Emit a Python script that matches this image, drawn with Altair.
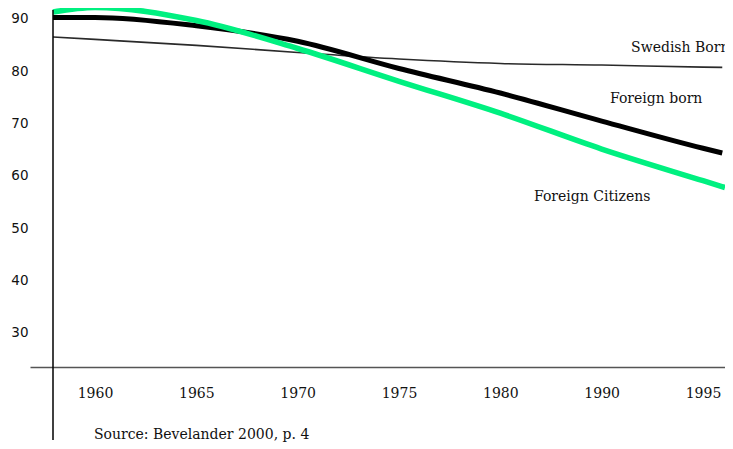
import altair as alt
import pandas as pd

# Category labels on the x axis (evenly spaced in the original)
years = ["1960", "1965", "1970", "1975", "1980", "1990", "1995"]

# Positions are in "category index" units (0 = 1960 ... 6 = 1995)
swedish_pos = [-0.4145, 0, 1, 2, 3, 4, 5, 6, 6.19]
swedish_val = [86.56, 86.1, 84.95, 83.6, 82.35, 81.5, 81.2, 80.8, 80.75]

foreign_born_pos = [-0.4145, 0, 1, 2, 3, 4, 5, 6, 6.19]
foreign_born_val = [90.29, 90.29, 88.7, 85.74, 80.54, 75.85, 70.5, 65.3, 64.4]

foreign_cit_pos = [-0.4145, 0, 1, 2, 3, 4, 5, 6, 6.217]
foreign_cit_val = [91.34, 92.2, 89.7, 84.36, 78.1, 72.0, 65.15, 59.1, 57.8]

y_ticks = [30, 40, 50, 60, 70, 80, 90]

labels = ["Swedish Born", "Foreign born", "Foreign Citizens"]
label_pos = [5.29, 5.082, 4.332]
label_val = [84.46, 74.71, 55.99]

source_text = ["Source: Bevelander 2000, p. 4"]
source_pos = [-0.01]
source_val = [10.6]

y_axis_pos = [-0.4145]
y_axis_top = [91.7]
y_axis_bottom = [9.55]

X_DOMAIN = [-0.6415, 6.217]
Y_DOMAIN = [23.5, 92.1]

xs = alt.Scale(domain=X_DOMAIN, nice=False, zero=False)
ys = alt.Scale(domain=Y_DOMAIN, nice=False, zero=False)

label_expr = "[" + ",".join(f"'{y}'" for y in years) + "][datum.value]"

x_axis = alt.Axis(
    values=list(range(len(years))),
    labelExpr=label_expr,
    ticks=False,
    grid=False,
    domainColor="#555555",
    domainWidth=1.6,
    labelFont="DejaVu Serif",
    labelFontSize=14,
    labelColor="#111111",
    labelPadding=19,
    labelFlush=False,
    title=None,
)
y_axis = alt.Axis(
    values=y_ticks,
    ticks=False,
    grid=False,
    domain=False,
    offset=-23,
    labelFont="DejaVu Sans",
    labelFontSize=13.5,
    labelColor="#111111",
    labelPadding=25,
    title=None,
)


def series_df(pos, val):
    return pd.DataFrame({"pos": pos, "val": val})


base_x = alt.X("pos:Q", scale=xs, axis=x_axis)
base_y = alt.Y("val:Q", scale=ys, axis=y_axis)

swedish = alt.Chart(series_df(swedish_pos, swedish_val)).mark_line(
    color="#2a2a2a", strokeWidth=1.6, interpolate="monotone"
).encode(x=base_x, y=base_y)

fborn = alt.Chart(series_df(foreign_born_pos, foreign_born_val)).mark_line(
    color="#000000", strokeWidth=5, interpolate="monotone"
).encode(x="pos:Q", y="val:Q")

fcit = alt.Chart(series_df(foreign_cit_pos, foreign_cit_val)).mark_line(
    color="#00f080", strokeWidth=5.5, interpolate="monotone"
).encode(x="pos:Q", y="val:Q")

yaxis_line = alt.Chart(
    pd.DataFrame({"pos": y_axis_pos, "top": y_axis_top, "bottom": y_axis_bottom})
).mark_rule(color="#000000", strokeWidth=1.5).encode(
    x="pos:Q", y="top:Q", y2="bottom:Q"
)

ann = alt.Chart(
    pd.DataFrame({"pos": label_pos, "val": label_val, "txt": labels})
).mark_text(
    align="left", baseline="middle", font="DejaVu Serif", fontSize=14, color="#111111"
).encode(x="pos:Q", y="val:Q", text="txt:N")

src = alt.Chart(
    pd.DataFrame({"pos": source_pos, "val": source_val, "txt": source_text})
).mark_text(
    align="left", baseline="middle", font="DejaVu Serif", fontSize=14, color="#111111"
).encode(x="pos:Q", y="val:Q", text="txt:N")

chart = (
    alt.layer(swedish, fborn, fcit, yaxis_line, ann, src)
    .properties(
        width=695,
        height=359,
        background="white",
        autosize=alt.AutoSizeParams(type="none"),
        padding={"left": 22, "top": 0, "right": 0, "bottom": 82},
    )
    .configure_view(strokeWidth=0, stroke="transparent")
)

chart.save("out.html", embed_options={"renderer": "svg", "actions": False})
